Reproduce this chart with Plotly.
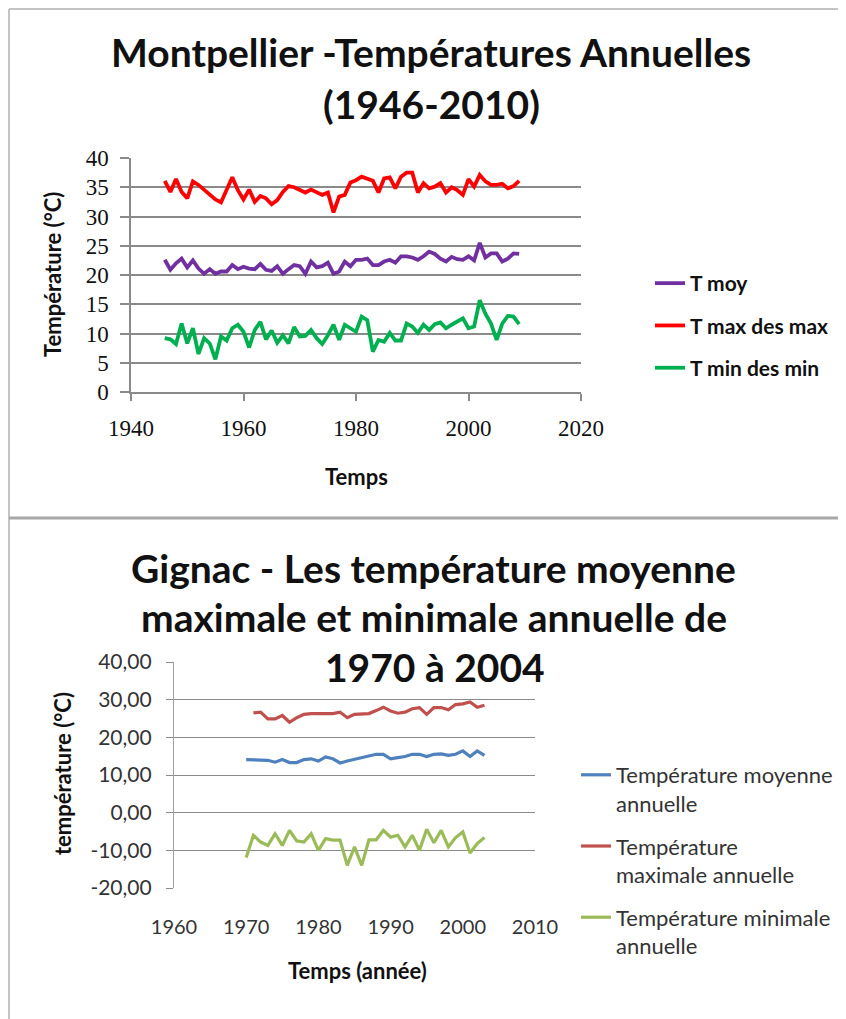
import plotly.graph_objects as go

W, H = 846, 1019
OFF = 8  # page body margin of the html page

# ---------------- Data: Montpellier ----------------
mtp_years = list(range(1946, 2010))
mtp_tmoy = [22.6, 20.9, 22.0, 22.8, 21.3, 22.5, 21.1, 20.2, 21.0, 20.2,
            20.6, 20.6, 21.7, 21.0, 21.4, 21.1, 21.0, 21.9, 20.9, 20.7,
            21.5, 20.2, 21.0, 21.7, 21.5, 20.2, 22.3, 21.3, 21.5, 22.1,
            20.2, 20.6, 22.3, 21.5, 22.6, 22.6, 22.8, 21.7, 21.7, 22.3,
            22.6, 22.1, 23.2, 23.2, 23.0, 22.6, 23.2, 24.0, 23.6, 22.8,
            22.3, 23.1, 22.7, 22.6, 23.2, 22.5, 25.5, 23.0, 23.7, 23.7,
            22.3, 22.8, 23.7, 23.6]
mtp_tmax = [36.1, 34.2, 36.4, 34.2, 33.1, 36.0, 35.4, 34.5, 33.7, 32.9,
            32.4, 34.5, 36.7, 34.5, 32.9, 34.6, 32.5, 33.5, 33.1, 32.1,
            32.8, 34.2, 35.2, 35.0, 34.5, 34.1, 34.6, 34.2, 33.7, 34.1,
            30.7, 33.4, 33.7, 35.8, 36.2, 36.8, 36.5, 36.1, 34.1, 36.5,
            36.7, 34.8, 36.8, 37.5, 37.5, 34.1, 35.7, 34.8, 35.1, 35.7,
            34.1, 35.0, 34.5, 33.7, 36.4, 35.1, 37.1, 36.0, 35.4, 35.4,
            35.6, 34.8, 35.2, 36.1]
mtp_tmin = [9.2, 9.0, 8.2, 11.7, 8.3, 10.9, 6.5, 9.2, 8.3, 5.6,
            9.5, 8.8, 10.9, 11.5, 10.3, 7.6, 10.6, 12.0, 9.0, 10.5,
            8.4, 9.7, 8.3, 11.1, 9.5, 9.6, 10.6, 9.2, 8.2, 9.7,
            11.5, 8.9, 11.5, 10.9, 10.3, 12.9, 12.3, 6.9, 8.9, 8.6,
            10.1, 8.8, 8.8, 11.7, 11.2, 10.1, 11.5, 10.6, 11.6, 11.9,
            10.9, 11.5, 12.0, 12.6, 10.9, 11.2, 15.7, 13.4, 11.7, 8.9,
            11.7, 13.0, 12.9, 11.6]

# ---------------- Data: Gignac ----------------
gig_years = list(range(1970, 2004))
gig_tmoy = [14.1, 14.1, 14.1, 13.9, 13.4, 14.1, 13.3, 13.3, 14.1, 14.3,
            13.7, 14.8, 14.3, 13.2, 13.7, 14.1, 14.6, 14.9, 15.5, 15.5,
            14.3, 14.6, 14.9, 15.5, 15.5, 14.9, 15.5, 15.6, 15.2, 15.5,
            16.4, 14.9, 16.4, 15.2]
gig_tmax_years = list(range(1971, 2004))
gig_tmax = [26.5, 26.7, 24.9, 24.9, 25.8, 24.0, 25.2, 26.1, 26.3,
            26.3, 26.3, 26.3, 26.7, 25.2, 26.1, 26.1, 26.3, 27.1, 28.0,
            27.0, 26.4, 26.7, 27.6, 27.9, 26.1, 27.9, 27.9, 27.3, 28.7,
            28.9, 29.4, 28.0, 28.5]
gig_tmin = [-11.9, -6.0, -7.8, -8.7, -5.6, -8.7, -4.7, -7.5, -7.8, -5.6,
            -10.0, -6.9, -7.3, -7.3, -14.0, -9.1, -14.0, -7.2, -7.2, -4.7,
            -6.5, -6.0, -9.1, -6.0, -10.0, -4.4, -8.0, -4.7, -9.1, -6.6,
            -5.1, -10.7, -8.2, -6.6]

top_y_ticks = [0, 5, 10, 15, 20, 25, 30, 35, 40]
bot_y_ticks = [-20, -10, 0, 10, 20, 30, 40]
bot_y_labels = ["-20,00", "-10,00", "0,00", "10,00", "20,00", "30,00", "40,00"]
bot_x_ticks = [1960, 1970, 1980, 1990, 2000, 2010]


def px(x):
    return (x - OFF) / W


def py(y):
    return 1 - (y - OFF) / H


SANS = "Lato"
SERIF = "Liberation Serif"

fig = go.Figure()

# Top chart traces
fig.add_trace(go.Scatter(x=mtp_years, y=mtp_tmoy, mode="lines", name="T moy",
                         line=dict(color="#7030A0", width=3.8),
                         xaxis="x", yaxis="y", legend="legend", legendgroup="a"))
fig.add_trace(go.Scatter(x=mtp_years, y=mtp_tmax, mode="lines", name="T max des max",
                         line=dict(color="#FF0000", width=3.8),
                         xaxis="x", yaxis="y", legend="legend", legendgroup="b"))
fig.add_trace(go.Scatter(x=mtp_years, y=mtp_tmin, mode="lines", name="T min des min",
                         line=dict(color="#00B050", width=3.8),
                         xaxis="x", yaxis="y", legend="legend", legendgroup="c"))

# Bottom chart traces
fig.add_trace(go.Scatter(x=gig_years, y=gig_tmoy, mode="lines",
                         name="Température moyenne<br>annuelle",
                         line=dict(color="#4F81BD", width=3.2),
                         xaxis="x2", yaxis="y2", legend="legend2", legendgroup="d"))
fig.add_trace(go.Scatter(x=gig_tmax_years, y=gig_tmax, mode="lines",
                         name="Température<br>maximale annuelle",
                         line=dict(color="#C0504D", width=3.2),
                         xaxis="x2", yaxis="y2", legend="legend2", legendgroup="e"))
fig.add_trace(go.Scatter(x=gig_years, y=gig_tmin, mode="lines",
                         name="Température minimale<br>annuelle",
                         line=dict(color="#9BBB59", width=3.2),
                         xaxis="x2", yaxis="y2", legend="legend2", legendgroup="f"))

GRID = "#8a8a8a"

top_ydom = [py(392), py(158)]
bot_ydom = [py(888), py(662)]
bot_zero_pos = bot_ydom[0] + (bot_ydom[1] - bot_ydom[0]) * (0 - (-20)) / 60

fig.update_layout(
    template="none",
    width=W, height=H,
    margin=dict(l=0, r=0, t=0, b=0, autoexpand=False),
    paper_bgcolor="white", plot_bgcolor="white",
    showlegend=True,
    xaxis=dict(domain=[px(131), px(581)], range=[1940, 2020], dtick=20,
               tick0=1940, showgrid=False, zeroline=False, automargin=False,
               showline=True, linecolor=GRID, linewidth=1.5,
               ticks="outside", ticklen=7, tickcolor=GRID, tickwidth=1.5,
               tickfont=dict(family=SERIF, size=23, color="#111"),
               ticklabelstandoff=8, anchor="y"),
    yaxis=dict(domain=top_ydom, range=[0, 40], tickvals=top_y_ticks,
               showgrid=True, gridcolor=GRID, gridwidth=1.5, zeroline=False,
               automargin=False,
               showline=True, linecolor=GRID, linewidth=1.5,
               ticks="outside", ticklen=9, tickcolor=GRID, tickwidth=1.5,
               tickfont=dict(family=SERIF, size=23, color="#111"),
               ticklabelstandoff=7, anchor="x"),
    xaxis2=dict(domain=[px(174), px(535)], range=[1960, 2010],
                tickvals=bot_x_ticks, showgrid=False, zeroline=False,
                automargin=False, showline=False, ticks="",
                tickfont=dict(family=SANS, size=20, color="#333"),
                ticklabelstandoff=25, anchor="y2"),
    xaxis3=dict(domain=[px(174), px(535)], range=[1960, 2010],
                tickvals=bot_x_ticks, showgrid=False, zeroline=False,
                automargin=False,
                showline=True, linecolor=GRID, linewidth=1.2,
                ticks="outside", ticklen=8, tickcolor=GRID, tickwidth=1.2,
                showticklabels=False, anchor="free", position=bot_zero_pos,
                overlaying="x2"),
    yaxis2=dict(domain=bot_ydom, range=[-20, 40], tickvals=bot_y_ticks,
                ticktext=bot_y_labels, automargin=False,
                showgrid=True, gridcolor=GRID, gridwidth=1.2, zeroline=False,
                showline=True, linecolor="#a0a0a0", linewidth=1.2,
                ticks="outside", ticklen=7, tickcolor=GRID, tickwidth=1.2,
                tickfont=dict(family=SANS, size=21, color="#333"),
                ticklabelstandoff=10, anchor="x2"),
    legend=dict(x=px(650), y=py(263), xanchor="left", yanchor="top",
                font=dict(family=SANS, size=21, color="#111", weight="bold"),
                bgcolor="rgba(0,0,0,0)", traceorder="grouped",
                tracegroupgap=12, itemwidth=30),
    legend2=dict(x=px(576), y=py(754), xanchor="left", yanchor="top",
                 font=dict(family=SANS, size=22, color="#333"),
                 bgcolor="rgba(0,0,0,0)", traceorder="grouped",
                 tracegroupgap=11, valign="top", itemwidth=30),
)

annotations = [
    dict(text="<b>Montpellier -Températures Annuelles</b>", x=px(431), y=py(52),
         font=dict(family=SANS, size=39, color="#111")),
    dict(text="<b>(1946-2010)</b>", x=px(431), y=py(104),
         font=dict(family=SANS, size=39, color="#111")),
    dict(text="<b>Gignac - Les température moyenne</b>", x=px(434), y=py(568),
         font=dict(family=SANS, size=39, color="#111")),
    dict(text="<b>maximale et minimale annuelle de</b>", x=px(434), y=py(617),
         font=dict(family=SANS, size=39, color="#111")),
    dict(text="<b>1970 à 2004</b>", x=px(435), y=py(667),
         font=dict(family=SANS, size=39, color="#111")),
    dict(text="<b>Température (°C)</b>", x=px(53), y=py(275), textangle=-90,
         font=dict(family=SANS, size=22, color="#111")),
    dict(text="<b>Temps</b>", x=px(356), y=py(476),
         font=dict(family=SANS, size=22, color="#111")),
    dict(text="<b>température (°C)</b>", x=px(62), y=py(773), textangle=-90,
         font=dict(family=SANS, size=22, color="#111")),
    dict(text="<b>Temps (année)</b>", x=px(357), y=py(970),
         font=dict(family=SANS, size=22, color="#111")),
]
for a in annotations:
    a.update(xref="paper", yref="paper", showarrow=False,
             xanchor="center", yanchor="middle")
fig.update_layout(annotations=annotations)

FRAME = "#c4c4c4"
fig.update_layout(shapes=[
    dict(type="line", xref="paper", yref="paper", x0=px(9), x1=1, y0=py(9), y1=py(9),
         line=dict(color=FRAME, width=2)),
    dict(type="line", xref="paper", yref="paper", x0=px(9), x1=px(9), y0=py(9), y1=0,
         line=dict(color=FRAME, width=2)),
    dict(type="line", xref="paper", yref="paper", x0=px(9), x1=1, y0=py(518), y1=py(518),
         line=dict(color="#a8a8a8", width=3)),
])

fig.write_html("out.html")
